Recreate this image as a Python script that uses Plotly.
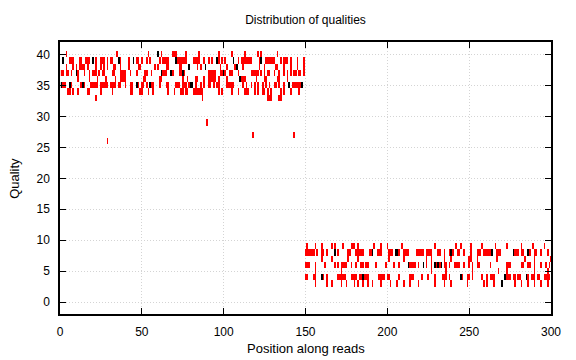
import plotly.graph_objects as go

# ---- data (position along read, quality) ----
positions = list(range(1, 301))
qualities = list(range(0, 42))

# upper cluster (positions 1-150)
red_q40 = [4, 35, 54, 62, 69, 70, 71, 77, 85, 97, 105, 113, 121, 123, 133]
black_q40 = [60]
red_q39 = [6, 7, 8, 12, 13, 16, 17, 18, 22, 25, 26, 27, 29, 31, 32, 37, 42, 47, 48, 50, 53, 55,
           61, 63, 64, 65, 66, 72, 73, 74, 75, 76, 77, 82, 83, 84, 85, 88, 91, 93, 97, 99, 101,
           109, 111, 112, 113, 114, 115, 116, 117, 122, 126, 127, 128, 129, 130, 131, 135, 137,
           138, 139, 141, 145, 149]
black_q39 = [2, 20, 36, 45, 71, 96, 106, 123]
red_q38 = [4, 8, 10, 12, 13, 14, 15, 17, 22, 25, 27, 29, 33, 34, 37, 42, 48, 49, 58, 60, 65, 66,
           73, 74, 84, 86, 98, 102, 107, 112, 122, 125, 132, 133, 137, 141, 145, 149]
black_q38 = [79, 89, 108]
red_q37 = [1, 2, 4, 5, 7, 11, 15, 18, 20, 21, 22, 24, 26, 27, 32, 33, 37, 38, 39, 40, 43, 47, 52,
           53, 56, 63, 64, 65, 69, 73, 74, 76, 91, 92, 93, 94, 95, 98, 99, 101, 104, 105, 109,
           117, 118, 119, 120, 121, 123, 125, 127, 128, 131, 134, 137, 139, 141, 143, 144, 146,
           147, 149]
black_q37 = [10, 62, 68, 75, 100]
red_q36 = [11, 18, 23, 28, 34, 37, 38, 39, 40, 51, 52, 61, 62, 75, 78, 83, 84, 88, 91, 92, 93,
           94, 95, 97, 102, 111, 112, 113, 120, 125, 126, 133, 134, 139]
black_q36 = [110]
red_q35 = [2, 3, 7, 13, 15, 19, 20, 21, 22, 23, 25, 26, 27, 28, 29, 31, 32, 33, 34, 36, 37, 40,
           43, 44, 48, 50, 51, 53, 56, 57, 61, 65, 66, 71, 72, 73, 75, 76, 77, 79, 83, 86, 88, 91,
           92, 94, 96, 97, 102, 103, 104, 105, 106, 112, 114, 117, 119, 121, 124, 126, 128, 131,
           132, 134, 137, 142, 143, 144, 145, 146, 147]
black_q35 = [1, 6, 14, 47, 55, 80, 81, 140, 148]
red_q34 = [5, 6, 8, 11, 17, 18, 25, 32, 43, 44, 49, 50, 54, 57, 66, 70, 74, 75, 77, 78, 82, 83,
           84, 85, 86, 87, 97, 99, 105, 109, 113, 114, 115, 119, 121, 124, 125, 127, 129, 135,
           137, 141, 146]
red_q33 = [22, 87, 127, 128, 129, 134, 135]
red_q29 = [90]
red_q27 = [118, 143]
red_q26 = [29]

# lower cluster (positions 150-300)
red_q9 = [151, 156, 160, 166, 168, 173, 178, 179, 180, 182, 192, 196, 200, 209, 229, 242, 245,
          251, 258, 266, 273, 282, 289, 296]
red_q8 = [150, 151, 152, 153, 154, 155, 157, 160, 161, 163, 170, 176, 177, 181, 182, 183, 184,
          185, 189, 190, 194, 195, 196, 201, 202, 203, 207, 210, 211, 212, 213, 218, 219, 220,
          221, 222, 224, 225, 226, 227, 231, 232, 235, 238, 240, 243, 244, 247, 251, 255, 256,
          257, 259, 260, 261, 262, 263, 267, 268, 269, 278, 279, 280, 282, 283, 287, 290, 291,
          294, 298]
black_q8 = [168, 191, 205, 206, 239, 264, 277, 286]
red_q7 = [160, 166, 176, 182, 201, 210, 224, 227, 235, 239, 250, 251, 255, 267, 284, 290, 300]
red_q6 = [150, 151, 152, 156, 162, 168, 170, 172, 173, 174, 175, 178, 181, 184, 185, 187, 188,
          193, 199, 204, 207, 214, 215, 216, 217, 219, 224, 227, 230, 232, 235, 236, 238, 241,
          242, 243, 244, 247, 250, 252, 255, 256, 263, 273, 274, 275, 282, 283, 286, 287, 290,
          294, 297, 299]
black_q6 = [213, 222, 229, 231, 233]
red_q5 = [156, 172, 227, 236, 252, 268, 273, 290, 298]
red_q4 = [150, 151, 155, 156, 161, 163, 170, 171, 172, 173, 174, 178, 179, 180, 181, 183, 184,
          186, 187, 188, 195, 196, 197, 198, 200, 201, 207, 214, 215, 216, 221, 225, 229, 234,
          235, 236, 238, 246, 249, 250, 252, 258, 261, 263, 264, 265, 273, 274, 275, 277, 278,
          280, 281, 286, 288, 289, 290, 292, 293, 296, 297, 298, 299]
black_q4 = [160, 185, 245, 272, 285]
red_q3 = [156, 163, 166, 172, 175, 180, 182, 185, 188, 191, 196, 202, 206, 210, 214, 219, 229,
          235, 239, 249, 259, 261, 265, 278, 282, 286, 290, 294, 298]
black_q3 = [270]

x_ticks = [0, 50, 100, 150, 200, 250, 300]
y_ticks = [0, 5, 10, 15, 20, 25, 30, 35, 40]

red_rows = {40: red_q40, 39: red_q39, 38: red_q38, 37: red_q37, 36: red_q36, 35: red_q35,
            34: red_q34, 33: red_q33, 29: red_q29, 27: red_q27, 26: red_q26, 9: red_q9,
            8: red_q8, 7: red_q7, 6: red_q6, 5: red_q5, 4: red_q4, 3: red_q3}
black_rows = {40: black_q40, 39: black_q39, 38: black_q38, 37: black_q37, 36: black_q36,
              35: black_q35, 8: black_q8, 6: black_q6, 4: black_q4, 3: black_q3}

z = [[None] * len(positions) for _ in qualities]
for q, plist in red_rows.items():
    for p in plist:
        z[q][p - 1] = 1
for q, plist in black_rows.items():
    for p in plist:
        z[q][p - 1] = 2

fig = go.Figure(go.Heatmap(
    x=positions, y=qualities, z=z,
    zmin=1, zmax=2,
    colorscale=[[0, "#ff0000"], [0.5, "#ff0000"], [0.5, "#000000"], [1, "#000000"]],
    showscale=False, hoverongaps=False,
))

font = "Liberation Sans, Arial, sans-serif"
axis_common = dict(
    showline=True, linecolor="#000000", linewidth=1.5, mirror="allticks",
    ticks="inside", ticklen=6, tickcolor="#000000", tickwidth=1,
    showgrid=True, gridcolor="#d4d4d4", griddash="1px,2px", gridwidth=1,
    zeroline=False, tickfont=dict(family=font, size=12, color="#000000"),
    ticklabelstandoff=6, automargin=False,
)

fig.update_layout(
    width=576, height=360,
    margin=dict(l=60, r=25, t=42, b=46),
    paper_bgcolor="white", plot_bgcolor="white",
    title=dict(text="Distribution of qualities", x=0.5, xanchor="center", xref="paper",
               y=1 - 20 / 360, yanchor="middle", yref="container",
               font=dict(family=font, size=12, color="#000000")),
    xaxis=dict(range=[0, 300], tickvals=x_ticks, **axis_common),
    yaxis=dict(range=[-1.9, 42.0], tickvals=y_ticks, **axis_common),
    annotations=[
        dict(text="Position along reads", xref="paper", yref="paper", x=0.5, y=-0.127,
             xanchor="center", yanchor="middle", showarrow=False,
             font=dict(family=font, size=13, color="#000000")),
        dict(text="Quality", xref="paper", yref="paper", x=-0.094, y=0.5, textangle=-90,
             xanchor="center", yanchor="middle", showarrow=False,
             font=dict(family=font, size=13, color="#000000")),
    ],
)

fig.write_html("out.html", config={"displayModeBar": False},
               post_script="document.body.style.margin='0px';")
